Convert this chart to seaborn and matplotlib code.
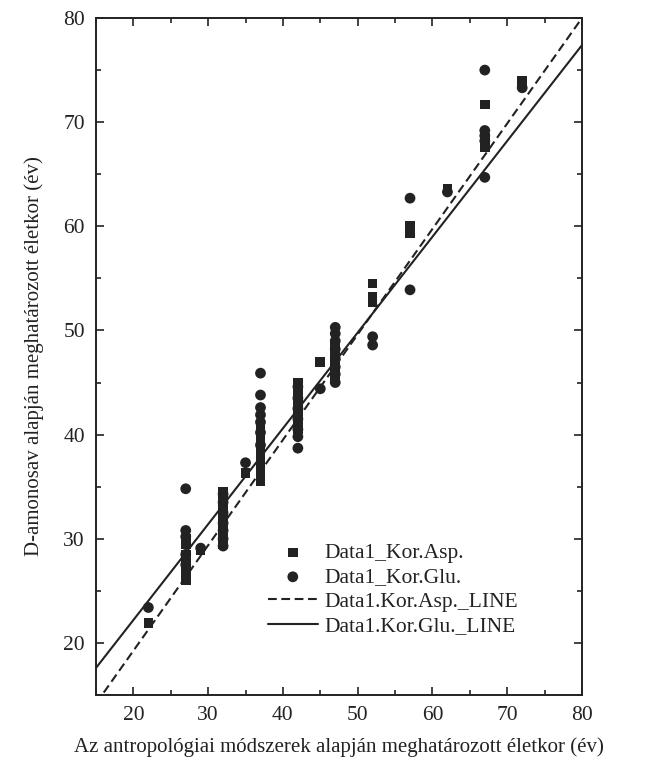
import numpy as np
import pandas as pd
import matplotlib
matplotlib.use("Agg")
import matplotlib.pyplot as plt
import seaborn as sns
from matplotlib.ticker import MultipleLocator

# Anthropological age estimate (x) vs. D-amino-acid age estimate (y)
asp_x = [22, 27, 27, 27, 27, 27, 27, 27, 27, 29,
         32, 32, 32, 32, 32, 32, 32, 32, 32, 32, 32,
         35, 37, 37, 37, 37, 37, 37, 37, 37, 37, 37, 37, 37,
         42, 42, 42, 42, 42, 42, 42, 42, 42, 42,
         45, 47, 47, 47, 47, 47, 47, 47,
         52, 52, 52, 57, 57, 62, 67, 67, 67, 67, 72, 72]
asp_y = [21.9, 26.0, 26.5, 27.0, 27.5, 28.0, 28.5, 29.5, 30.0, 28.9,
         29.5, 30.0, 30.5, 31.0, 31.5, 32.0, 32.5, 33.0, 33.5, 34.0, 34.5,
         36.3, 35.5, 36.0, 36.5, 37.0, 37.5, 38.0, 38.5, 39.0, 39.5, 40.0, 40.5, 41.0,
         40.5, 41.0, 41.5, 42.0, 42.5, 43.0, 43.5, 44.0, 44.5, 45.0,
         47.0, 45.5, 46.0, 46.5, 47.0, 47.5, 48.0, 48.5,
         54.5, 53.2, 52.7, 59.3, 60.0, 63.6, 71.7, 68.5, 68.0, 67.6, 74.0, 73.6]

glu_x = [22, 27, 27, 27, 27, 27, 29,
         32, 32, 32, 32, 32, 32, 32,
         35, 37, 37, 37, 37, 37, 37, 37,
         42, 42, 42, 42, 42, 42, 42,
         45, 47, 47, 47, 47, 47, 47, 47, 47,
         52, 52, 57, 57, 62, 67, 67, 67, 67, 67, 72]
glu_y = [23.4, 34.8, 30.8, 30.2, 28.5, 27.5, 29.1,
         29.3, 30.0, 30.8, 31.5, 32.5, 33.5, 34.3,
         37.3, 45.9, 43.8, 42.6, 41.9, 41.2, 40.2, 39.0,
         38.7, 39.8, 40.5, 41.5, 42.5, 43.5, 44.6,
         44.4, 45.0, 45.8, 46.5, 47.3, 48.2, 49.0, 49.7, 50.3,
         49.4, 48.6, 62.7, 53.9, 63.3, 75.0, 69.2, 68.7, 68.2, 64.7, 73.3]

# Fitted regression lines (slope, intercept)
asp_fit = (1.0125, -1.0)
glu_fit = (0.920, 3.8)

labels = ["Data1_Kor.Asp.", "Data1_Kor.Glu.",
          "Data1.Kor.Asp._LINE", "Data1.Kor.Glu._LINE"]

sns.set_theme(style="ticks")
plt.rcParams["font.family"] = ["Liberation Serif", "DejaVu Serif"]

fig = plt.figure(figsize=(6.54, 7.62), dpi=100)
ax = fig.add_axes([96 / 654, 1 - 695 / 762, 486 / 654, 677 / 762])

ink = "#222222"

asp_df = pd.DataFrame({"x": asp_x, "y": asp_y})
glu_df = pd.DataFrame({"x": glu_x, "y": glu_y})

sns.scatterplot(data=asp_df, x="x", y="y", marker="s", s=48, color=ink,
                edgecolor="none", linewidth=0, ax=ax, label=labels[0], zorder=3)
sns.scatterplot(data=glu_df, x="x", y="y", marker="o", s=60, color=ink,
                edgecolor="none", linewidth=0, ax=ax, label=labels[1], zorder=3)

xl = np.array([15.0, 80.0])
line_asp = pd.DataFrame({"x": xl, "y": asp_fit[0] * xl + asp_fit[1]})
line_glu = pd.DataFrame({"x": xl, "y": glu_fit[0] * xl + glu_fit[1]})
ax.plot(line_asp["x"], line_asp["y"], color=ink, lw=1.5,
        linestyle=(0, (4.2, 2.2)), label=labels[2], zorder=2)
ax.plot(line_glu["x"], line_glu["y"], color=ink, lw=1.5,
        linestyle="-", label=labels[3], zorder=2)

ax.set_xlim(15, 80)
ax.set_ylim(15, 80)
ax.xaxis.set_major_locator(MultipleLocator(10))
ax.xaxis.set_minor_locator(MultipleLocator(5))
ax.yaxis.set_major_locator(MultipleLocator(10))
ax.yaxis.set_minor_locator(MultipleLocator(5))
ax.tick_params(which="both", direction="in", top=True, right=True,
               color=ink, width=1.2, labelsize=15.5, labelcolor=ink, pad=8)
ax.tick_params(which="major", length=6)
ax.tick_params(which="minor", length=3.5)
for sp in ax.spines.values():
    sp.set_linewidth(1.4)
    sp.set_color(ink)

ax.set_xlabel("Az antropológiai módszerek alapján meghatározott életkor (év)",
              fontsize=15, color=ink, labelpad=9)
ax.set_ylabel("D-amonosav alapján meghatározott életkor (év)",
              fontsize=15, color=ink, labelpad=14)

leg = ax.legend(loc="upper left", bbox_to_anchor=(0.354, 0.2245),
                frameon=False, fontsize=15.5, borderpad=0, borderaxespad=0,
                handlelength=2.3, handletextpad=0.3, labelspacing=0.2,
                labelcolor=ink)

fig.savefig("out.png", dpi=100, facecolor="white")
